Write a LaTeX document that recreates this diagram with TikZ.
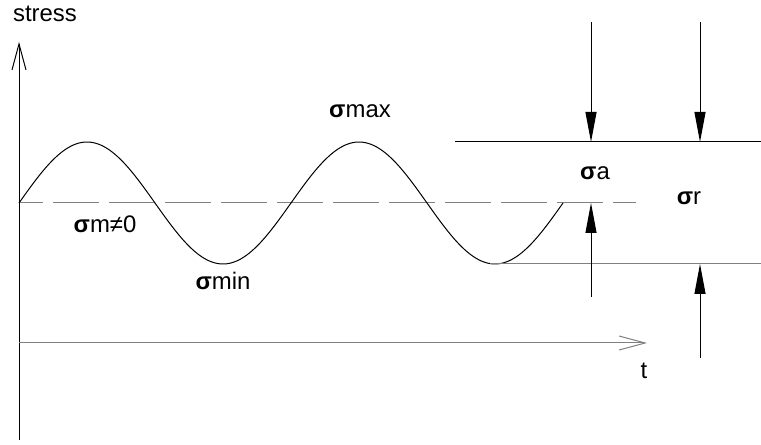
\documentclass[tikz,border=0pt]{standalone}
\usepackage{fontspec}
\setmainfont{Liberation Sans}
\usetikzlibrary{arrows.meta}

\newcommand{\sig}{{\bfseries σ}}

\begin{document}
\begin{tikzpicture}[
  x=1bp, y=-1bp,
  font=\fontsize{24}{28}\selectfont,
  axis/.style={line width=1bp, -{Straight Barb[length=26bp,width=14bp]}},
  dim/.style={line width=1bp, -{Triangle[length=30bp,width=11bp]}},
  level/.style={line width=1bp},
  lab/.style={anchor=base, inner sep=0pt}
]
\useasboundingbox (0,0) rectangle (761,445);

% ---------- axes ----------
\coordinate (o) at (19,343);
\coordinate (ybot) at (19,440);
\coordinate (ytop) at (19,42);
\coordinate (xend) at (647,343);
\draw[axis] (ybot) -- (ytop);
\draw[axis, gray] (o) -- (xend);
\node[lab] (stress) at (45,22) {stress};
\node[lab] (t) at (644,379) {t};

% ---------- mean stress and the signal ----------
\coordinate (mstart) at (19,203);
\coordinate (mend) at (636,203);
\draw[level, gray, dash pattern=on 46bp off 10bp, dash phase=22bp] (mstart) -- (mend);
\draw[level] plot[domain=19:563, samples=200] (\x, {203-61*sin(((\x-19)/272)*360)});

% ---------- upper and lower levels ----------
\coordinate (hi0) at (455,142);
\coordinate (hi1) at (761,142);
\coordinate (lo0) at (490,264);
\coordinate (lo1) at (761,264);
\draw[level] (hi0) -- (hi1);
\draw[level, gray] (lo0) -- (lo1);

% ---------- amplitude and range arrows ----------
\coordinate (a1) at (591,22);
\coordinate (a2) at (591,142);
\coordinate (a3) at (591,297);
\coordinate (a4) at (591,203);
\coordinate (r1) at (700,22);
\coordinate (r2) at (700,142);
\coordinate (r3) at (700,358);
\coordinate (r4) at (700,264);
\draw[dim] (a1) -- (a2);
\draw[dim] (a3) -- (a4);
\draw[dim] (r1) -- (r2);
\draw[dim] (r3) -- (r4);

% ---------- labels ----------
\node[lab] (smax) at (360,118) {\sig max};
\node[lab] (smin) at (223,290) {\sig min};
\node[lab] (smean) at (105,233) {\sig m≠0};
\node[lab] (samp) at (595,180) {\sig a};
\node[lab] (srange) at (689,205) {\sig r};

\end{tikzpicture}
\end{document}
